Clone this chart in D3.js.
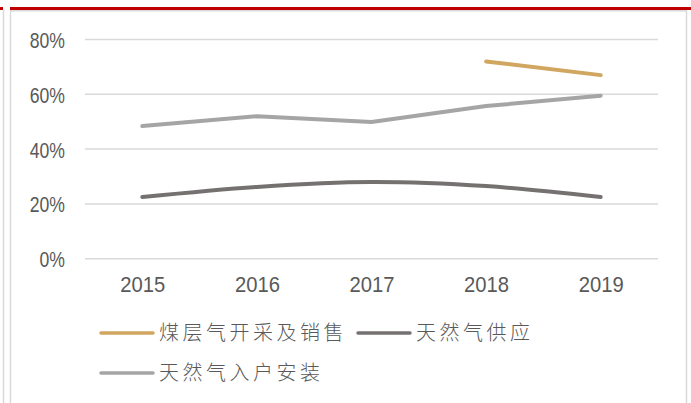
<!DOCTYPE html>
<html><head><meta charset="utf-8">
<script src="https://cdn.jsdelivr.net/npm/d3@7/dist/d3.min.js"></script>
<style>
html,body{margin:0;padding:0;background:#fff;}
svg{display:block;}
</style></head>
<body>
<script>
const categories = ["2015","2016","2017","2018","2019"];
const seriesNames = ["煤层气开采及销售","天然气供应","天然气入户安装"];
const coalbedGas = [null,null,null,72,67];
const gasSupply = [22.5,26.2,28,26.5,22.5];
const gasInstall = [48.4,52.0,49.9,55.7,59.5];
const yTicks = [0,20,40,60,80];
const yTickLabels = ["0%","20%","40%","60%","80%"];

const W = 691, H = 403;
const svg = d3.select("body").append("svg").attr("width",W).attr("height",H);

// frame decorations
svg.append("rect").attr("x",0).attr("y",7).attr("width",3).attr("height",3).attr("fill","#C00000");
svg.append("rect").attr("x",10).attr("y",7).attr("width",W-10).attr("height",3).attr("fill","#C00000");
svg.append("line").attr("x1",3.5).attr("x2",3.5).attr("y1",10).attr("y2",H).attr("stroke","#D9D9D9").attr("stroke-width",1.5);
svg.append("path").attr("d",`M10.5,${H} V10.8 H686.5 V${H}`).attr("fill","none").attr("stroke","#D9D9D9").attr("stroke-width",1.5);

const left = 85, right = 658;
const x = d3.scalePoint().domain(categories).range([left,right]).padding(0.5);
const y = d3.scaleLinear().domain([0,80]).range([258.7,39.5]);

// gridlines
svg.append("g").selectAll("line").data(yTicks).join("line")
  .attr("x1",left).attr("x2",right)
  .attr("y1",d=>y(d)).attr("y2",d=>y(d))
  .attr("stroke","#D9D9D9").attr("stroke-width",1.5);

// y axis labels
const yAxis = d3.axisLeft(y).tickValues(yTicks).tickSize(0).tickPadding(0)
  .tickFormat((d,i)=>yTickLabels[i]);
const gy = svg.append("g").attr("transform","translate(65,0)").call(yAxis);
gy.select(".domain").remove();
gy.selectAll("text").attr("fill","#595959")
  .style("font-family","'Liberation Sans',Arial,sans-serif")
  .style("font-size","22px").attr("dy","0.36em")
  .attr("transform","scale(0.8,1)");

// x axis labels
const xAxis = d3.axisBottom(x).tickSize(0).tickPadding(0);
const gx = svg.append("g").attr("transform","translate(0,276)").call(xAxis);
gx.select(".domain").remove();
gx.selectAll("text").attr("fill","#595959")
  .style("font-family","'Liberation Sans',Arial,sans-serif")
  .style("font-size","22px").attr("dy","0.71em")
  .attr("transform","scale(0.92,1)")
  .attr("x",function(){ return 0; });
gx.selectAll(".tick text").attr("text-anchor","middle");

const colors = ["#D0A660","#767171","#A5A5A5"];
const series = [coalbedGas, gasSupply, gasInstall];
const curves = [d3.curveLinear, d3.curveCatmullRom.alpha(0.5), d3.curveLinear];

series.forEach((vals,i)=>{
  const line = d3.line()
    .defined(d=>d!=null)
    .x((d,j)=>x(categories[j]))
    .y(d=>y(d))
    .curve(curves[i]);
  svg.append("path").datum(vals)
    .attr("d",line)
    .attr("fill","none").attr("stroke",colors[i])
    .attr("stroke-width",4).attr("stroke-linecap","round").attr("stroke-linejoin","round");
});

// legend
const legendItems = [
  {name:seriesNames[0], color:colors[0], x:100, y:333},
  {name:seriesNames[1], color:colors[1], x:357, y:333},
  {name:seriesNames[2], color:colors[2], x:100, y:373}
];
const lg = svg.append("g");
legendItems.forEach(it=>{
  lg.append("line").attr("x1",it.x+1).attr("x2",it.x+53)
    .attr("y1",it.y).attr("y2",it.y)
    .attr("stroke",it.color).attr("stroke-width",3.5).attr("stroke-linecap","round");
  lg.append("text").attr("x",it.x+59).attr("y",it.y).attr("dy","0.36em")
    .attr("fill","#595959")
    .style("font-family","'Noto Sans CJK SC',sans-serif")
    .style("font-weight","300")
    .style("font-size","20px").style("letter-spacing","3.5px")
    .text(it.name);
});
</script>
</body></html>
